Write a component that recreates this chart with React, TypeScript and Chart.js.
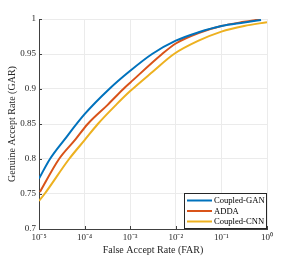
import React, { useEffect, useRef } from "react";
import { Chart, registerables } from "chart.js";

Chart.register(...registerables);

const xTickValues = [1e-5, 1e-4, 1e-3, 1e-2, 1e-1, 1];
const xTickLabels = ["10⁻⁵", "10⁻⁴", "10⁻³", "10⁻²", "10⁻¹", "10⁰"];
const yTickValues = [0.7, 0.75, 0.8, 0.85, 0.9, 0.95, 1];
const yTickLabels = ["0.7", "0.75", "0.8", "0.85", "0.9", "0.95", "1"];

const seriesNames = ["Coupled-GAN", "ADDA", "Coupled-CNN"];
const seriesColors = ["#0072BD", "#D95319", "#EDB120"];

const farGAN = [1e-5, 1.74e-5, 3.55e-5, 1e-4, 3.47e-4, 1e-3, 3.02e-3, 1e-2, 3.16e-2, 1e-1, 0.316, 0.741];
const garGAN = [0.772, 0.8, 0.827, 0.864, 0.9, 0.926, 0.95, 0.969, 0.981, 0.99, 0.995, 0.9986];

const farADDA = [1.05e-5, 2.75e-5, 6.31e-5, 1.17e-4, 3.16e-4, 7.08e-4, 1e-3, 5.01e-3, 1e-2, 3.16e-2, 1e-1, 0.316, 0.708];
const garADDA = [0.753, 0.8, 0.828, 0.85, 0.877, 0.9, 0.909, 0.95, 0.965, 0.98, 0.99, 0.996, 0.9995];

const farCNN = [1e-5, 1.32e-5, 4.57e-5, 1e-4, 1.95e-4, 5.01e-4, 1e-3, 3.16e-3, 9.12e-3, 3.16e-2, 1e-1, 0.316, 1];
const garCNN = [0.74, 0.75, 0.8, 0.827, 0.85, 0.878, 0.897, 0.925, 0.95, 0.969, 0.982, 0.99, 0.9955];

const FONT = "'Liberation Serif', 'Times New Roman', serif";

const toPoints = (xs: number[], ys: number[]) => xs.map((x, i) => ({ x, y: ys[i] }));

const legendPlugin = {
  id: "insideLegend",
  afterDraw(chart: any) {
    const { ctx, chartArea } = chart;
    const w = 83;
    const h = 36;
    const x0 = chartArea.right - w;
    const y0 = chartArea.bottom - h;
    ctx.save();
    ctx.fillStyle = "#ffffff";
    ctx.fillRect(x0, y0, w, h);
    ctx.strokeStyle = "#262626";
    ctx.lineWidth = 1;
    ctx.strokeRect(Math.round(x0) + 0.5, Math.round(y0) + 0.5, w - 1, h - 1);
    ctx.font = `8.6px ${FONT}`;
    ctx.textBaseline = "middle";
    ctx.textAlign = "left";
    chart.data.datasets.forEach((ds: any, i: number) => {
      const yy = y0 + 7.5 + i * 10.5;
      ctx.strokeStyle = ds.borderColor;
      ctx.lineWidth = 2;
      ctx.beginPath();
      ctx.moveTo(x0 + 3, yy);
      ctx.lineTo(x0 + 28, yy);
      ctx.stroke();
      ctx.fillStyle = "#000000";
      ctx.fillText(ds.label, x0 + 30, yy + 0.5);
    });
    ctx.restore();
  },
};

const inwardTicks = {
  id: "inwardTicks",
  afterDatasetsDraw(chart: any) {
    const { ctx, chartArea, scales } = chart;
    ctx.save();
    ctx.strokeStyle = "#404040";
    ctx.lineWidth = 1;
    ctx.beginPath();
    xTickValues.forEach((v) => {
      const px = Math.round(scales.x.getPixelForValue(v)) + 0.5;
      ctx.moveTo(px, chartArea.bottom);
      ctx.lineTo(px, chartArea.bottom - 3);
    });
    yTickValues.forEach((v) => {
      const py = Math.round(scales.y.getPixelForValue(v)) + 0.5;
      ctx.moveTo(chartArea.left, py);
      ctx.lineTo(chartArea.left + 3, py);
    });
    ctx.stroke();
    ctx.restore();
  },
};

export default function App() {
  const ref = useRef<HTMLCanvasElement | null>(null);
  useEffect(() => {
    if (!ref.current) return;
    const ds = [
      toPoints(farGAN, garGAN),
      toPoints(farADDA, garADDA),
      toPoints(farCNN, garCNN),
    ];
    const chart = new Chart(ref.current, {
      type: "line",
      data: {
        datasets: ds.map((d, i) => ({
          label: seriesNames[i],
          data: d,
          borderColor: seriesColors[i],
          backgroundColor: seriesColors[i],
          borderWidth: 2,
          pointRadius: 0,
          fill: false,
          cubicInterpolationMode: "monotone" as const,
        })),
      },
      options: {
        animation: false,
        responsive: false,
        layout: { padding: { top: 19, right: 29, left: 0, bottom: 0 } },
        plugins: { legend: { display: false }, tooltip: { enabled: false } },
        scales: {
          x: {
            type: "logarithmic",
            min: 1e-5,
            max: 1,
            afterBuildTicks(scale: any) {
              scale.ticks = xTickValues.map((v) => ({ value: v }));
            },
            afterFit(scale: any) {
              scale.height = 28;
            },
            ticks: {
              autoSkip: false,
              maxRotation: 0,
              padding: 3,
              color: "#262626",
              font: { family: FONT, size: 9 },
              callback: (v: any) => {
                const idx = xTickValues.findIndex((t) => Math.abs(t - Number(v)) / t < 1e-6);
                return idx >= 0 ? xTickLabels[idx] : "";
              },
            },
            grid: { color: "#ebebeb", drawTicks: false },
            border: { display: true, color: "#404040", width: 1 },
            title: {
              display: true,
              text: "False Accept Rate (FAR)",
              color: "#262626",
              font: { family: FONT, size: 10 },
              padding: { top: 0, bottom: 1 },
            },
          },
          y: {
            type: "linear",
            min: 0.7,
            max: 1,
            afterBuildTicks(scale: any) {
              scale.ticks = yTickValues.map((v) => ({ value: v }));
            },
            afterFit(scale: any) {
              scale.width = 39;
            },
            ticks: {
              padding: 3,
              color: "#262626",
              font: { family: FONT, size: 9 },
              callback: (v: any) => {
                const idx = yTickValues.findIndex((t) => Math.abs(t - Number(v)) < 1e-6);
                return idx >= 0 ? yTickLabels[idx] : "";
              },
            },
            grid: { color: "#ebebeb", drawTicks: false },
            border: { display: true, color: "#404040", width: 1 },
            title: {
              display: true,
              text: "Genuine Accept Rate (GAR)",
              color: "#262626",
              font: { family: FONT, size: 10 },
              padding: { top: 6, bottom: 0 },
            },
          },
        },
      },
      plugins: [inwardTicks, legendPlugin],
    });
    return () => chart.destroy();
  }, []);
  return (
    <div style={{ position: "fixed", left: 0, top: 0, width: 296, height: 257, background: "#fff" }}>
      <canvas ref={ref} width={296} height={257} style={{ width: 296, height: 257 }} />
    </div>
  );
}
